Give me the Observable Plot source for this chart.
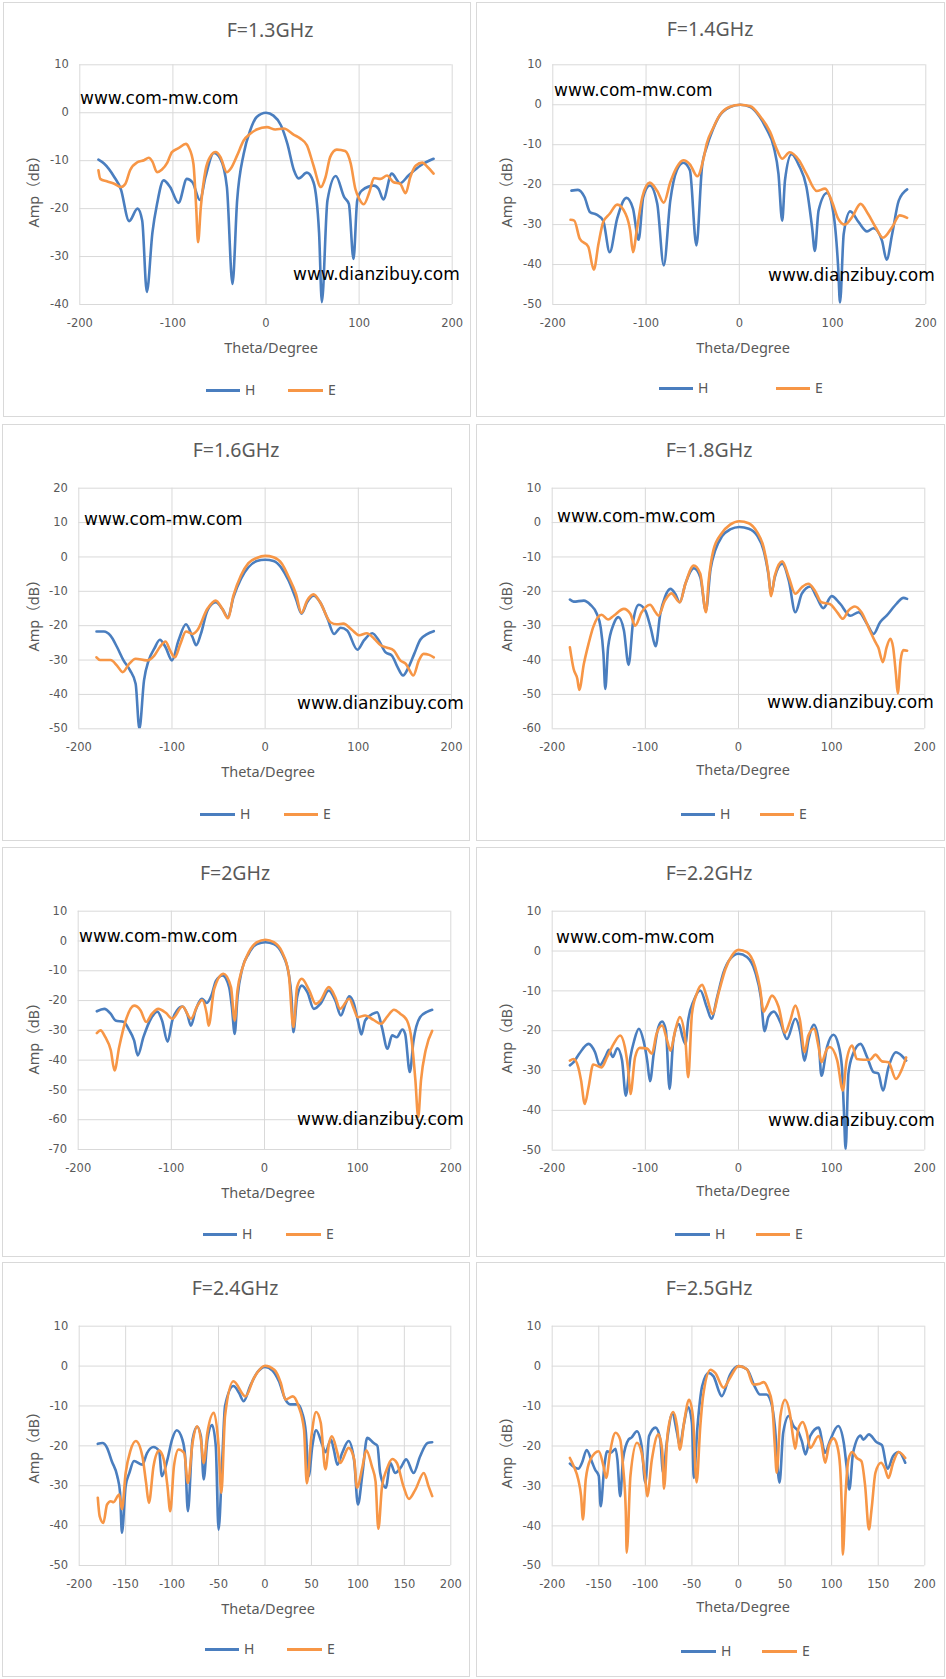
<!DOCTYPE html>
<html><head><meta charset="utf-8">
<script src="https://cdn.jsdelivr.net/npm/d3@7"></script>
<script src="https://cdn.jsdelivr.net/npm/@observablehq/plot@0.6"></script>
<style>
body{margin:0;background:#fff;}
#page{position:relative;width:946px;height:1679px;overflow:hidden;background:#fff;}
.box{position:absolute;border:1px solid #d9d9d9;box-sizing:border-box;}
.t{position:absolute;white-space:nowrap;line-height:1;color:#595959;font-family:"Noto Sans","Noto Sans CJK SC",sans-serif;}
.wm{position:absolute;white-space:nowrap;line-height:1;color:#000;font-family:"DejaVu Sans",sans-serif;font-size:17px;transform:translate(0,-50%);}
.sw{position:absolute;height:3px;}
.plotwrap{position:absolute;}
</style></head><body><div id="page"></div><script>
// ---- data: [theta (deg), amplitude (dB)] ----
const h13 = [[-180,-9.8],[-174,-10.6],[-163,-13.4],[-156,-15.9],[-147,-22.6],[-138,-20],[-133,-22.5],[-128,-37.4],[-122,-25],[-117,-19],[-110,-14.1],[-103,-15.5],[-94,-18.8],[-85,-13.8],[-79,-14.5],[-71,-18.2],[-65,-13.4],[-56,-8.4],[-49,-9.6],[-42,-15.5],[-36,-35.7],[-31,-18.3],[-24,-8.6],[-17,-3.7],[-10,-0.9],[0,0],[8,-0.6],[16,-2.6],[23,-6.5],[30,-12],[35,-13.7],[44,-12.5],[51,-14.5],[57,-25],[60,-39.5],[66,-18.3],[75,-13.2],[84,-17.6],[89,-19],[94,-30.5],[98,-18.3],[103,-16.2],[116,-15.2],[121,-15.9],[126,-18.1],[135,-12.7],[144,-14.7],[153,-13.1],[166,-11],[180,-9.6]];
const e13 = [[-180,-12],[-178,-13.8],[-171,-14.3],[-163,-14.8],[-156,-15.5],[-151,-14.8],[-146,-12],[-138,-10.3],[-131,-9.9],[-126,-9.4],[-122,-10.2],[-117,-12.4],[-112,-11.9],[-106,-10.4],[-101,-8.2],[-94,-7.4],[-86,-6.5],[-83,-7.2],[-78,-10.6],[-75,-19.7],[-73,-27],[-70,-19.7],[-65,-12],[-60,-9.2],[-54,-8.2],[-49,-9.2],[-42,-12.4],[-38,-11.7],[-31,-8.9],[-24,-5.8],[-17,-4.4],[-10,-3.5],[1,-3.0],[10,-3.5],[19,-3.3],[30,-4.6],[37,-5.4],[44,-6.8],[51,-11],[59,-15.5],[64,-13.4],[69,-9.2],[76,-7.7],[85,-8],[91,-10.6],[96,-15.9],[100,-17.9],[105,-19.1],[111,-16.6],[116,-13.6],[123,-13.8],[130,-13.1],[137,-14.5],[144,-14.8],[150,-16.8],[155,-13.4],[161,-11],[168,-10.4],[173,-11.2],[180,-12.7]];
const h14 = [[-180,-21.5],[-173,-21.3],[-166,-23.1],[-160,-26.9],[-153,-27.5],[-146,-29],[-139,-36.9],[-131,-28.5],[-121,-23.3],[-114,-26],[-108,-33.8],[-103,-23.1],[-96,-20.2],[-88,-24.8],[-81,-40.2],[-74,-24],[-67,-16.4],[-60,-14.5],[-53,-16.4],[-46,-35.2],[-40,-15.6],[-35,-10.6],[-28,-6],[-21,-2.7],[-10,-0.6],[1,0],[12,-0.6],[22,-3.1],[29,-6],[37,-10.6],[42,-17.3],[46,-29],[49,-18.9],[56,-12.4],[64,-15.2],[72,-20.6],[78,-30.6],[81,-36.6],[85,-26.5],[94,-22.1],[101,-27.3],[106,-40.6],[108,-49.5],[112,-32.3],[119,-26.7],[128,-29.4],[137,-31.7],[144,-30.9],[153,-34],[158,-38.8],[164,-32.3],[171,-24],[180,-21.2]];
const e14 = [[-181,-28.8],[-177,-29],[-171,-33.6],[-162,-35.5],[-156,-41.3],[-151,-34.8],[-146,-29.4],[-139,-27.3],[-131,-25],[-122,-27.3],[-117,-31.5],[-114,-36.9],[-110,-31.5],[-104,-23.1],[-96,-19.5],[-88,-21.6],[-81,-24.5],[-74,-19.4],[-67,-15.6],[-60,-13.9],[-53,-14.9],[-45,-17.9],[-38,-13.1],[-35,-9.8],[-28,-5.8],[-21,-2.6],[-10,-0.5],[1,0],[12,-0.4],[22,-2.8],[33,-6.8],[40,-11],[46,-13.5],[54,-11.9],[64,-13.9],[72,-17.3],[83,-21.6],[92,-21],[99,-24],[106,-28.5],[113,-30],[121,-28.1],[130,-24.8],[138,-27.3],[146,-30.6],[154,-33.3],[164,-30.6],[172,-27.7],[180,-28.3]];
const h16 = [[-181,-21.7],[-173,-21.7],[-166,-22.9],[-159,-26.2],[-152,-30.1],[-145,-33],[-139,-36.9],[-135,-50],[-130,-35.9],[-125,-30.1],[-119,-26.7],[-113,-24.1],[-107,-26.2],[-100,-30.1],[-93,-24.3],[-85,-19.6],[-78,-23.3],[-74,-25.7],[-69,-22.4],[-62,-15.6],[-53,-13.2],[-46,-15.1],[-40,-17.5],[-34,-11.7],[-26,-6.4],[-18,-3],[-9,-1.2],[0,-0.8],[9,-1.2],[18,-3.4],[25,-6.8],[33,-12.2],[39,-16.5],[45,-13.2],[52,-11.3],[59,-13.2],[67,-18],[74,-22.4],[81,-20.6],[88,-21.4],[99,-27],[106,-24.3],[115,-22.2],[122,-24.3],[129,-27.7],[136,-28.7],[142,-32],[148,-34.5],[154,-32],[160,-28.2],[167,-23.9],[181,-21.6]];
const e16 = [[-181,-29.2],[-177,-30],[-166,-30],[-159,-31.6],[-153,-33.5],[-146,-31.1],[-139,-29.6],[-127,-30.1],[-119,-28.7],[-113,-26.2],[-107,-24.6],[-102,-27.2],[-97,-29.2],[-91,-25.3],[-85,-21.7],[-78,-22.4],[-73,-21.4],[-62,-15.1],[-53,-12.7],[-46,-15.1],[-40,-17.8],[-34,-11.2],[-26,-5.4],[-18,-1.8],[-9,-0.3],[0,0.3],[9,-0.1],[18,-2],[25,-5.7],[33,-10.7],[39,-16.3],[45,-12.7],[52,-10.9],[59,-13.2],[70,-19],[77,-19.6],[84,-19.4],[93,-21.2],[101,-22.8],[109,-22.2],[117,-23.8],[124,-25.7],[131,-26.4],[138,-27.2],[145,-30.1],[151,-31.1],[154,-32.5],[159,-34.5],[165,-30.1],[170,-28.2],[176,-28.5],[181,-29.2]];
const h18 = [[-181,-22.4],[-177,-23],[-166,-22.7],[-159,-23.9],[-152,-26.6],[-148,-30.4],[-145,-38.2],[-143,-48.4],[-140,-36.3],[-134,-29.5],[-129,-27.5],[-123,-31.4],[-118,-41.4],[-113,-28.5],[-107,-23.9],[-100,-25.6],[-94,-30.9],[-89,-36],[-84,-26.6],[-79,-21.7],[-73,-19.3],[-68,-20.7],[-63,-23.2],[-57,-17.8],[-48,-13.3],[-41,-15.9],[-35,-25.6],[-30,-13.5],[-25,-8.1],[-18,-4.1],[-9,-2],[1,-1.3],[11,-1.8],[20,-3.8],[27,-8.1],[32,-14.9],[35,-20.7],[39,-15.9],[47,-12],[54,-16.9],[61,-26.1],[68,-20.7],[77,-18.6],[84,-21.7],[91,-24.9],[100,-21.4],[109,-23.6],[120,-27.1],[129,-26.1],[138,-29.5],[145,-32.4],[152,-29],[159,-27.1],[170,-23.5],[177,-21.9],[181,-22.2]];
const e18 = [[-181,-36.3],[-177,-42.6],[-173,-45.5],[-171,-48.7],[-166,-41.1],[-161,-35.3],[-156,-30.4],[-147,-26.8],[-140,-28.2],[-134,-27.1],[-123,-25.1],[-116,-26.6],[-111,-30],[-104,-26.1],[-95,-23.9],[-89,-26.1],[-86,-27.1],[-79,-22.7],[-72,-20.6],[-63,-23.2],[-57,-17.8],[-48,-12.5],[-41,-14.9],[-35,-26.1],[-32,-16.9],[-27,-8.1],[-18,-3.1],[-9,-0.6],[1,0.4],[11,-0.2],[20,-2.8],[27,-7.2],[32,-14.4],[35,-21.4],[39,-15.4],[47,-11.3],[54,-15.9],[61,-20.7],[68,-18.8],[75,-17.8],[82,-19.8],[89,-23.2],[98,-23.7],[106,-26.1],[112,-28],[118,-25.6],[125,-24.4],[132,-26.1],[141,-31.4],[147,-34.8],[150,-36.3],[155,-40.6],[159,-36.3],[163,-33.8],[166,-36.3],[169,-44.1],[171,-49.7],[174,-40.1],[177,-37.1],[181,-37.3]];
const h20 = [[-180,-23.6],[-172,-22.8],[-165,-24.5],[-160,-26.7],[-151,-27.2],[-146,-29.5],[-140,-33.4],[-136,-38.4],[-130,-32.3],[-122,-26.1],[-115,-23.7],[-110,-26.7],[-104,-33.8],[-99,-26.7],[-94,-23.3],[-88,-22],[-83,-24.5],[-79,-28.4],[-74,-23.3],[-67,-19.4],[-62,-20.8],[-57,-18.3],[-52,-13.3],[-45,-11.6],[-38,-15.5],[-35,-22.2],[-32,-31.2],[-29,-18.9],[-24,-9.4],[-17,-4.3],[-8,-1],[1,-0.4],[10,-1],[19,-4.3],[26,-11],[29,-18.9],[31,-30.6],[35,-18.9],[40,-15],[46,-17.2],[53,-22.8],[60,-21.1],[69,-16.6],[76,-20],[82,-25],[87,-21.1],[91,-18.6],[96,-21.1],[101,-27.8],[104,-31.4],[108,-26.7],[116,-24.5],[121,-23.9],[126,-28.9],[132,-36.2],[137,-31.7],[142,-32.3],[148,-29.7],[151,-31.2],[156,-44],[160,-33.4],[167,-25.6],[175,-23.7],[180,-23.1]];
const e20 = [[-180,-30.9],[-176,-30],[-171,-32.2],[-165,-36.7],[-161,-43.5],[-156,-35.6],[-149,-26.7],[-140,-21.7],[-133,-23.3],[-127,-27.2],[-121,-24.5],[-114,-22.8],[-106,-24.1],[-99,-26.1],[-88,-22],[-79,-26.1],[-72,-21.7],[-67,-19.8],[-62,-24.5],[-60,-28.4],[-54,-16.1],[-44,-11],[-36,-15.5],[-32,-26.7],[-29,-16.6],[-24,-9.4],[-17,-3.8],[-8,-0.4],[1,0.4],[10,-0.4],[19,-3.8],[26,-11],[31,-28.9],[35,-15.5],[40,-12.7],[48,-16.6],[55,-21.1],[60,-20],[69,-15.5],[76,-18.9],[81,-22.8],[91,-19.4],[96,-22.8],[100,-25.6],[108,-25],[117,-26.5],[125,-27.8],[132,-25.3],[139,-23.1],[146,-24.5],[153,-26.7],[158,-33.4],[162,-46.8],[165,-59.2],[168,-46.8],[173,-36.7],[180,-30.2]];
const h22 = [[-181,-28.7],[-177,-27.9],[-171,-25.8],[-161,-23.3],[-154,-25.4],[-149,-28.7],[-143,-26.6],[-139,-24.8],[-135,-26.6],[-130,-24.4],[-125,-27.5],[-121,-36.3],[-116,-26.6],[-112,-22.5],[-107,-19.5],[-102,-22.5],[-98,-27.5],[-95,-32.7],[-91,-25.8],[-86,-19.1],[-82,-17.7],[-78,-19.9],[-74,-34.6],[-70,-22.5],[-64,-18.3],[-60,-21.6],[-57,-23.3],[-54,-17.4],[-48,-12.4],[-41,-9.9],[-34,-14.1],[-29,-17],[-23,-11.6],[-16,-5.3],[-9,-2],[0,-0.7],[9,-1.5],[18,-5.3],[24,-11.6],[28,-20.1],[32,-16.6],[38,-15.2],[45,-17.9],[52,-22.1],[61,-17],[66,-20.1],[71,-27.5],[75,-22.5],[81,-18.5],[86,-22.5],[89,-31.3],[95,-24.1],[102,-21],[107,-23.3],[111,-29.1],[113,-39.2],[115,-49.7],[118,-30.8],[123,-25.8],[131,-23.3],[138,-26.6],[145,-30.4],[150,-30.7],[155,-35],[161,-29.2],[169,-25.4],[175,-26.2],[180,-27.5]];
const e22 = [[-181,-27.5],[-177,-27.1],[-172,-29.2],[-169,-32.5],[-165,-38.4],[-161,-34.2],[-156,-28.5],[-147,-29.2],[-141,-26.6],[-134,-23.3],[-127,-21.2],[-122,-24.1],[-118,-30.8],[-116,-35.9],[-111,-26.6],[-106,-24.3],[-98,-24.5],[-93,-25.8],[-88,-20.8],[-82,-18.7],[-77,-22.1],[-73,-25],[-68,-20],[-63,-16.6],[-57,-22.5],[-54,-31.7],[-50,-15.8],[-45,-10.8],[-39,-8.5],[-34,-11.6],[-28,-15.8],[-21,-10.2],[-14,-4.5],[-7,-1.1],[0,0.3],[9,-0.3],[18,-4.1],[23,-9.1],[27,-15.2],[30,-14],[36,-11.2],[43,-14],[50,-20.5],[55,-17.9],[61,-13.7],[66,-17.4],[71,-25.4],[75,-21.2],[81,-19.5],[86,-24.1],[89,-27.9],[95,-24.6],[98,-24.1],[106,-27.5],[112,-35],[116,-27.5],[122,-23.7],[127,-27.1],[134,-27.3],[141,-27.3],[147,-26],[154,-27.7],[161,-27.9],[169,-32.1],[175,-29.9],[180,-26.7]];
const h24 = [[-180,-19.5],[-175,-19.3],[-170,-20.5],[-165,-23.8],[-159,-27.6],[-156,-31.8],[-154,-41.8],[-150,-30.1],[-146,-26.8],[-141,-23.8],[-132,-24.7],[-127,-21.8],[-120,-20.3],[-114,-21.3],[-111,-27.6],[-105,-23.4],[-100,-18.4],[-95,-16.1],[-89,-18.4],[-86,-22.6],[-83,-36.4],[-78,-18.4],[-73,-15.2],[-69,-17.6],[-66,-28.4],[-62,-18.4],[-57,-14.8],[-53,-20],[-50,-41],[-46,-23.4],[-43,-10],[-34,-5],[-28,-6.7],[-23,-8.8],[-16,-5],[-8,-1.5],[0,-0.2],[8,-1.1],[15,-3.8],[22,-8.4],[27,-9.6],[35,-9.6],[40,-11.7],[44,-16.7],[47,-27.6],[51,-20],[55,-16.1],[62,-20],[65,-21.6],[71,-18.4],[74,-20.9],[78,-24.7],[83,-21.8],[90,-18.8],[96,-23.8],[100,-34.7],[105,-26.8],[110,-18],[117,-19.3],[121,-20],[124,-26.8],[130,-30.5],[135,-24.3],[140,-26.8],[146,-25.5],[152,-23.4],[160,-26.8],[167,-22.6],[175,-19.3],[180,-19.1]];
const e24 = [[-180,-33],[-178,-37.6],[-174,-39.3],[-170,-34.7],[-166,-33.9],[-163,-34.1],[-157,-32.2],[-154,-35.9],[-150,-26.8],[-145,-21.3],[-139,-18.8],[-132,-22.6],[-128,-29.3],[-125,-34.3],[-120,-25.1],[-114,-21.2],[-109,-23.4],[-105,-30.1],[-102,-36.4],[-98,-25.1],[-93,-20.9],[-87,-21.8],[-83,-29.3],[-78,-19.3],[-73,-15.1],[-69,-18.4],[-66,-24.3],[-62,-16.7],[-55,-11.7],[-50,-20],[-47,-31.8],[-43,-12.5],[-34,-3.8],[-21,-7.6],[-12,-3],[0,0.1],[10,-0.9],[17,-4.2],[22,-8.4],[30,-7.6],[36,-10],[42,-15.9],[45,-29.4],[50,-17.6],[55,-11.5],[60,-14.2],[65,-25.9],[69,-19.3],[72,-17.6],[78,-21.8],[81,-24.3],[90,-20.5],[96,-23.4],[99,-30.5],[105,-25.1],[109,-21.1],[115,-25.1],[119,-28.9],[122,-40.8],[126,-30.1],[131,-25.9],[137,-23.3],[142,-24.3],[149,-30.1],[155,-33.3],[162,-30.9],[171,-26.8],[176,-30.1],[180,-32.6]];
const h25 = [[-181,-24.4],[-177,-25.2],[-172,-25.7],[-168,-24.2],[-163,-21],[-157,-24.2],[-154,-25.9],[-150,-27.5],[-148,-35.1],[-144,-25],[-141,-21.3],[-137,-21.7],[-132,-20.7],[-130,-23.4],[-127,-32.6],[-124,-23.4],[-118,-18.4],[-115,-17.9],[-109,-16.3],[-104,-20],[-100,-29.2],[-96,-17.5],[-89,-15.4],[-84,-18.4],[-81,-26.7],[-77,-19.2],[-71,-11.9],[-66,-16.7],[-63,-20],[-59,-15],[-54,-10.3],[-50,-14.2],[-48,-28],[-44,-15],[-39,-5],[-32,-1.7],[-27,-2.5],[-18,-7.5],[-9,-2.1],[0,0],[9,-0.8],[18,-5.4],[23,-7.1],[30,-7.1],[36,-10],[39,-15],[44,-29.2],[48,-16.7],[54,-12.5],[59,-15],[64,-16.3],[68,-18.8],[72,-22.1],[77,-17.5],[86,-15.4],[93,-21.7],[98,-18.8],[107,-15],[113,-19.2],[116,-25],[119,-30.9],[123,-21.7],[131,-17.4],[134,-18.4],[140,-17.1],[148,-19],[154,-19.8],[160,-25.7],[166,-22.5],[172,-21.5],[179,-24.2]];
const e25 = [[-181,-23],[-177,-25],[-172,-28.4],[-169,-32.5],[-167,-38.4],[-164,-28.4],[-159,-23.4],[-150,-21.3],[-145,-25],[-142,-28],[-138,-21.7],[-132,-16.7],[-127,-18.4],[-124,-25],[-121,-36.3],[-120,-46.7],[-116,-27.5],[-109,-19.2],[-104,-21.7],[-100,-28.4],[-98,-32.6],[-93,-23.4],[-86,-17.1],[-82,-20.9],[-80,-30.7],[-76,-16.7],[-70,-11.5],[-66,-15],[-63,-20.9],[-58,-13.4],[-53,-8.4],[-49,-12.5],[-45,-29.1],[-41,-15],[-38,-7.5],[-30,-0.9],[-25,-1.7],[-16,-5.4],[-9,-2.9],[0,0],[9,-0.8],[16,-4.6],[23,-4.4],[27,-4],[32,-5.9],[36,-9.2],[39,-20],[41,-26.7],[45,-12.5],[50,-8.4],[55,-11.7],[59,-18.4],[61,-20.7],[64,-15.9],[69,-14],[73,-16.3],[77,-20.5],[86,-17.5],[89,-19.2],[93,-24.2],[97,-20],[102,-18.1],[106,-20],[109,-25],[111,-36.7],[112,-47.2],[115,-31.7],[118,-23.4],[122,-21.5],[127,-23],[132,-23.8],[136,-30.1],[140,-40.9],[143,-35.5],[147,-26.7],[153,-24.2],[157,-25.5],[161,-28],[166,-24.2],[172,-21.5],[179,-23]];

const titles = ["F=1.3GHz","F=1.4GHz","F=1.6GHz","F=1.8GHz","F=2GHz","F=2.2GHz","F=2.4GHz","F=2.5GHz"];
const seriesH = [h13,h14,h16,h18,h20,h22,h24,h25];
const seriesE = [e13,e14,e16,e18,e20,e22,e24,e25];
const yDomains = [[-40,10],[-50,10],[-50,20],[-60,10],[-70,10],[-50,10],[-50,10],[-50,10]];
const xStep = [100,100,100,100,100,100,50,50];
const seriesNames = ["H","E"];
const colors = ["#4a7ebf","#f79646"];
const watermarks = ["www.com-mw.com","www.dianzibuy.com"];

// ---- layout (pixels) ----
const layout = [
 {ox:0,oy:0,l:79.3,r:451.7,t:64.3,b:304,box:[3,2,471,417],tc:[270,30],ac:[271,347],yc:[33,188],lg:[206,240,288,323,390],wm:[[80,98],[293,274]]},
 {ox:473,oy:0,l:552.3,r:925.3,t:64.3,b:304,box:[476,2,945,417],tc:[710,28.5],ac:[743,347],yc:[506,188],lg:[659,693,776,810,388],wm:[[554,90],[768,275]]},
 {ox:0,oy:420,l:78.3,r:451,t:487.7,b:728.3,box:[2,424,470,841],tc:[236,450],ac:[268,771],yc:[33,612],lg:[200,235,284,318,814],wm:[[84,519],[297,703]]},
 {ox:473,oy:420,l:551.7,r:924.3,t:487.7,b:728.3,box:[476,424,945,841],tc:[709,450],ac:[743,769],yc:[506,612],lg:[681,715,760,794,814],wm:[[557,516],[767,702]]},
 {ox:0,oy:840,l:77.7,r:450.3,t:910.7,b:1149,box:[2,847,470,1257],tc:[235,873],ac:[268,1192],yc:[33,1035],lg:[203,237,286,321,1234],wm:[[79,936],[297,1119]]},
 {ox:473,oy:840,l:551.7,r:924.3,t:910.7,b:1149.7,box:[476,847,945,1257],tc:[709,873],ac:[743,1190],yc:[506,1034],lg:[675,710,756,790,1234],wm:[[556,937],[768,1120]]},
 {ox:0,oy:1259,l:78.7,r:450.3,t:1325.7,b:1565,box:[2,1262,470,1677],tc:[235,1288],ac:[268,1608],yc:[33,1444],lg:[205,239,287,322,1649],wm:null},
 {ox:473,oy:1259,l:551.7,r:924.3,t:1325.7,b:1565.3,box:[476,1262,945,1677],tc:[709,1288],ac:[743,1606],yc:[506,1449],lg:[681,716,762,797,1651],wm:null}
];

const page = document.getElementById("page");
function el(cls, css, text){
  const d = document.createElement("div");
  d.className = cls;
  Object.assign(d.style, css);
  if (text != null) d.textContent = text;
  page.appendChild(d);
  return d;
}

const W = 473, H = 420;
layout.forEach((L, i) => {
  const [bx0,by0,bx1,by1] = L.box;
  el("box", {left:bx0+"px", top:by0+"px", width:(bx1-bx0)+"px", height:(by1-by0)+"px"});

  const [y0,y1] = yDomains[i];
  const xt = d3.range(-200, 201, xStep[i]);
  const yt = d3.range(y0, y1 + 0.1, 10);
  const fmt = d => String(d);
  const chart = Plot.plot({
    width: W, height: H,
    marginLeft: L.l - L.ox, marginRight: L.ox + W - L.r,
    marginTop: L.t - L.oy, marginBottom: L.oy + H - L.b,
    x: {domain: [-200, 200]},
    y: {domain: [y0, y1]},
    style: {fontFamily: "DejaVu Sans, sans-serif", fontSize: "11.5px", color: "#595959", background: "transparent", overflow: "visible"},
    marks: [
      Plot.gridX(xt, {stroke: "#d9d9d9", strokeOpacity: 1, strokeWidth: 1}),
      Plot.gridY(yt, {stroke: "#d9d9d9", strokeOpacity: 1, strokeWidth: 1}),
      Plot.axisX({ticks: xt, tickSize: 0, tickPadding: 14, tickFormat: fmt, label: null, fill: "#595959"}),
      Plot.axisY({ticks: yt, tickSize: 0, tickPadding: 11, tickFormat: fmt, label: null, fill: "#595959"}),
      Plot.line(seriesH[i], {x: d => d[0], y: d => d[1], stroke: colors[0], strokeWidth: 2.6, curve: "monotone-x", clip: true}),
      Plot.line(seriesE[i], {x: d => d[0], y: d => d[1], stroke: colors[1], strokeWidth: 2.6, curve: "monotone-x", clip: true})
    ]
  });
  const wrap = el("plotwrap", {left: L.ox+"px", top: L.oy+"px", width: W+"px", height: H+"px"});
  wrap.appendChild(chart);

  // title
  el("t", {left:L.tc[0]+"px", top:L.tc[1]+"px", fontSize:"19.5px", transform:"translate(-50%,-50%)"}, titles[i]);
  // x axis title
  el("t", {left:L.ac[0]+"px", top:L.ac[1]+"px", fontSize:"14.5px", transform:"translate(-50%,-50%)"}, "Theta/Degree");
  // y axis title
  el("t", {left:L.yc[0]+"px", top:L.yc[1]+"px", fontSize:"14.5px", transform:"translate(-50%,-50%) rotate(-90deg)"}, "Amp（dB）");
  // legend
  const [hx0,hx1,ex0,ex1,ly] = L.lg;
  [[hx0,hx1],[ex0,ex1]].forEach(([a,b], k) => {
    el("sw", {left:a+"px", top:(ly-1.5)+"px", width:(b-a)+"px", background:colors[k]});
    el("t", {left:(b+5)+"px", top:ly+"px", fontSize:"14px", transform:"translate(0,-50%)"}, seriesNames[k]);
  });
  // watermarks
  if (L.wm) {
    L.wm.forEach(([x,y], k) => el("wm", {left:x+"px", top:y+"px"}, watermarks[k]));
  }
});
</script></body></html>
